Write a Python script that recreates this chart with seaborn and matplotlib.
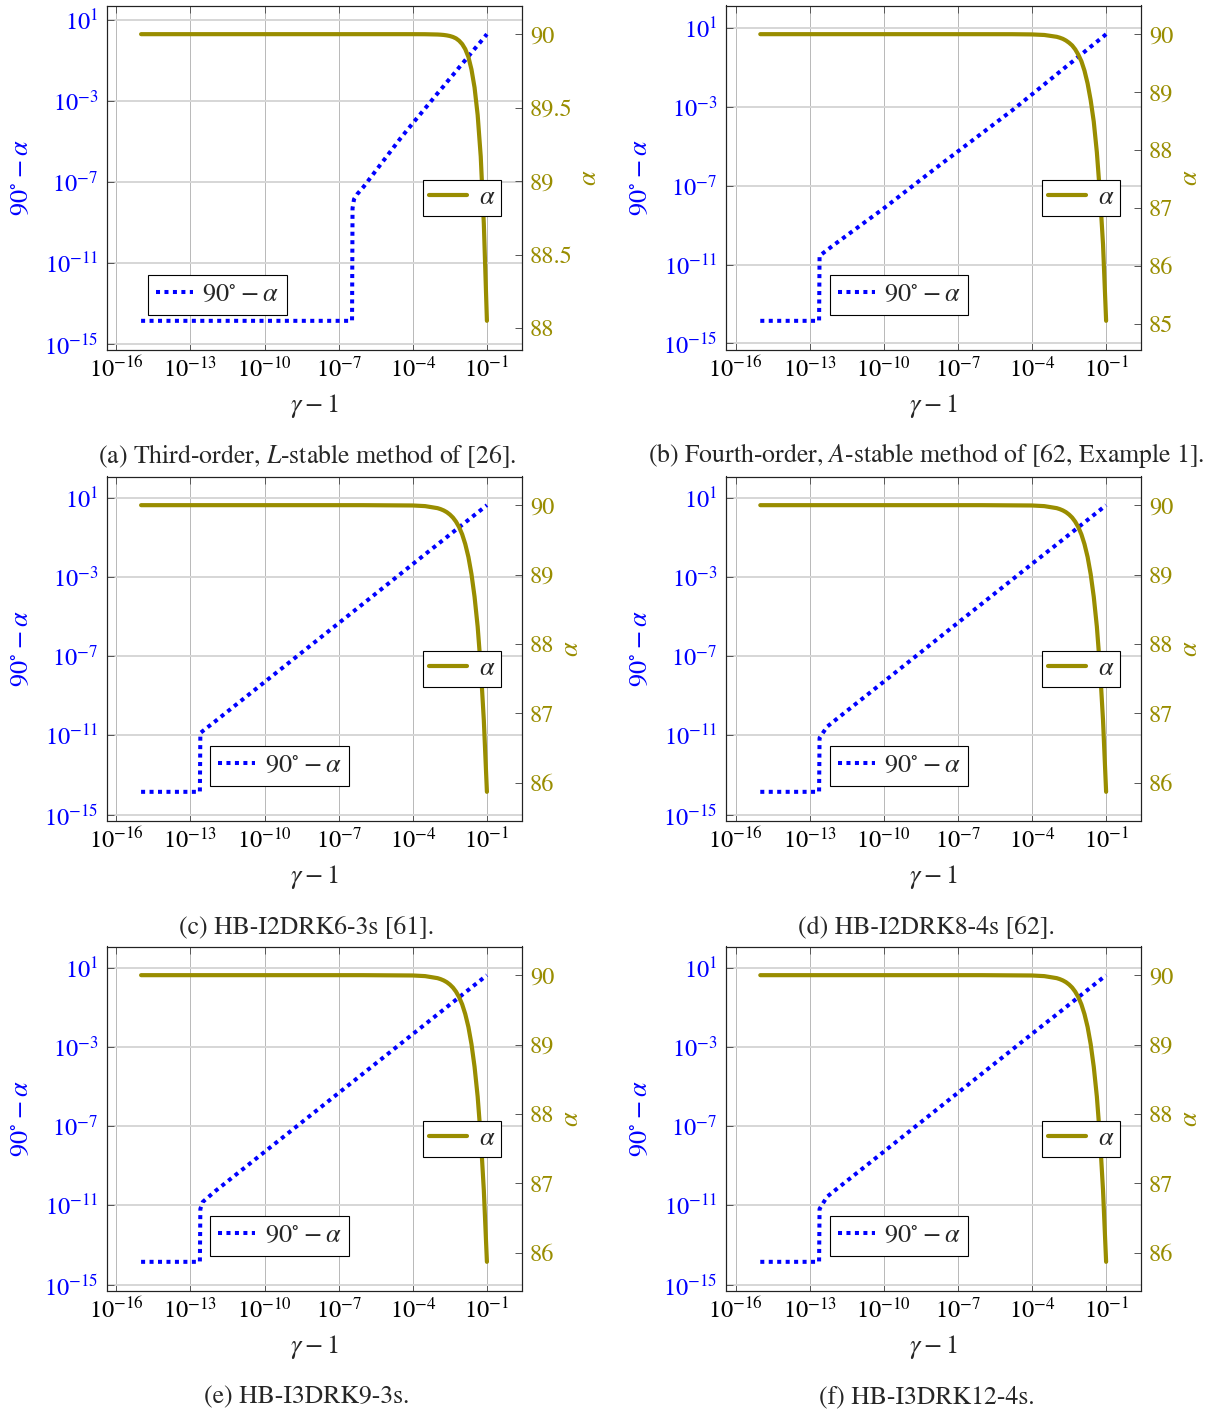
import numpy as np
import pandas as pd
import matplotlib
matplotlib.use("Agg")
import matplotlib.pyplot as plt
from matplotlib.ticker import FixedLocator, NullLocator, FuncFormatter
import seaborn as sns

# ---------------------------------------------------------------------------
# Data: gamma - 1 samples and the measured deviation 90 deg - alpha
# ---------------------------------------------------------------------------
# common fine sampling of the last two decades (1e-3 ... 1e-1)
gm1_tail = [1e-3, 1.33e-3, 1.78e-3, 2.37e-3, 3.16e-3, 4.22e-3, 5.62e-3, 7.50e-3,
            1e-2, 1.33e-2, 1.78e-2, 2.37e-2, 3.16e-2, 4.22e-2, 5.62e-2, 7.50e-2, 1e-1]

gm1_a = [1e-15, 1e-10, 3.47e-7, 3.63e-7, 4.17e-7, 5.62e-7, 1e-6, 3.16e-6, 1e-5,
         3.16e-5, 1e-4, 3.16e-4] + gm1_tail
dev_a = [1.41e-14, 1.41e-14, 1.41e-14, 5.0e-9, 1.41e-8, 2.51e-8, 5.62e-8, 3.55e-7,
         2.24e-6, 1.41e-5, 7.94e-5, 4.27e-4,
         2.34e-3, 3.55e-3, 5.37e-3, 8.3e-3, 1.26e-2, 1.91e-2, 2.88e-2, 4.47e-2,
         6.76e-2, 0.102, 0.155, 0.240, 0.363, 0.55, 0.832, 1.29, 1.95]

gm1_b = [1e-15, 1e-13, 2.40e-13, 2.51e-13, 1e-12, 1e-10, 1e-8, 1.58e-5, 1e-4,
         3.16e-4] + gm1_tail
dev_b = [1.41e-14, 1.41e-14, 1.41e-14, 2.82e-11, 1.05e-10, 7.2e-9, 6.3e-7, 6.76e-4,
         4.37e-3, 1.41e-2,
         4.57e-2, 6.1e-2, 8.13e-2, 0.110, 0.148, 0.195, 0.263, 0.355, 0.468, 0.63,
         0.851, 1.14, 1.51, 2.04, 2.75, 3.63, 4.95]

# (c)-(f) share the same behaviour over the last two decades
dev_tail_cf = [4.3e-2, 5.7e-2, 7.6e-2, 0.101, 0.135, 0.179, 0.238, 0.317, 0.422,
               0.561, 0.746, 0.993, 1.32, 1.75, 2.33, 3.10, 4.13]

gm1_c = [1e-15, 1e-13, 2.40e-13, 2.51e-13, 1e-12, 1e-10, 1e-8, 1e-6, 1e-4,
         3.16e-4] + gm1_tail
dev_c = [1.41e-14, 1.41e-14, 1.41e-14, 1.32e-11, 5.1e-11, 4.9e-9, 4.7e-7, 4.5e-5,
         4.4e-3, 1.38e-2] + dev_tail_cf

gm1_d = [1e-15, 1e-13, 2.40e-13, 2.51e-13, 5.01e-13, 1e-12, 1e-10, 1e-8, 1e-6,
         1e-4, 3.16e-4] + gm1_tail
dev_d = [1.41e-14, 1.41e-14, 1.41e-14, 7.4e-12, 2.7e-11, 5.4e-11, 5.1e-9, 4.9e-7,
         4.7e-5, 4.5e-3, 1.4e-2] + dev_tail_cf

gm1_e = [1e-15, 1e-13, 2.40e-13, 2.51e-13, 3.16e-13, 1e-12, 1e-10, 1e-8, 1e-6,
         1e-4, 3.16e-4] + gm1_tail
dev_e = [1.41e-14, 1.41e-14, 1.41e-14, 6.6e-12, 1.5e-11, 5.2e-11, 5.0e-9, 4.8e-7,
         4.6e-5, 4.4e-3, 1.38e-2] + dev_tail_cf

gm1_f = [1e-15, 1e-13, 2.40e-13, 2.51e-13, 5.01e-13, 1e-12, 1e-10, 1e-8, 1e-6,
         1e-4, 3.16e-4] + gm1_tail
dev_f = [1.41e-14, 1.41e-14, 1.41e-14, 6.6e-12, 2.7e-11, 5.4e-11, 5.1e-9, 4.9e-7,
         4.7e-5, 4.5e-3, 1.4e-2] + dev_tail_cf

# tick values
x_ticks = [1e-16, 1e-13, 1e-10, 1e-7, 1e-4, 1e-1]
dev_ticks = [1e1, 1e-3, 1e-7, 1e-11, 1e-15]
alpha_ticks_a = [88, 88.5, 89, 89.5, 90]
alpha_ticks_b = [85, 86, 87, 88, 89, 90]
alpha_ticks_cf = [86, 87, 88, 89, 90]

captions = [
    r"(a) Third-order, $L$-stable method of [26].",
    r"(b) Fourth-order, $A$-stable method of [62, Example 1].",
    r"(c) HB-I2DRK6-3s [61].",
    r"(d) HB-I2DRK8-4s [62].",
    r"(e) HB-I3DRK9-3s.",
    r"(f) HB-I3DRK12-4s.",
]

# ---------------------------------------------------------------------------
# Style
# ---------------------------------------------------------------------------
sns.set_style("ticks")
plt.rcParams["font.family"] = ["STIXGeneral", "DejaVu Serif"]
plt.rcParams["mathtext.fontset"] = "stix"

BLUE = "#0000ff"
OLIVE = "#998d00"
TICK_FS = 17.5
LABEL_FS = 19
LEG_FS = 19
CAP_FS = 18.5

W, H = 1212, 1413
fig = plt.figure(figsize=(W / 100, H / 100), dpi=100)

col_left = [106.5, 725.7]
row_top = [5.5, 476.5, 946.5]
AX_W, AX_H = 415.0, 344.0
cap_x = [307, 926.5]
cap_y = [456, 927, 1397]


def enlarge(lo, hi, frac=0.1):
    span = hi - lo
    return lo - frac * span, hi + frac * span


def draw_panel(idx, gm1, dev, aticks, blue_leg_x):
    r, c = divmod(idx, 2)
    left = col_left[c]
    top = row_top[r]
    ax = fig.add_axes([left / W, 1 - (top + AX_H) / H, AX_W / W, AX_H / H])
    ax.set_xscale("log")
    ax.set_yscale("log")
    ax2 = ax.twinx()

    df = pd.DataFrame({"gm1": gm1, "dev": dev})
    df["alpha"] = 90.0 - df["dev"]

    sns.lineplot(data=df, x="gm1", y="dev", ax=ax, color=BLUE, linewidth=2.9,
                 linestyle=(0, (1.0, 1.1)), dash_capstyle="butt",
                 estimator=None, sort=False, legend=False)
    blue_line = ax.lines[-1]
    sns.lineplot(data=df, x="gm1", y="alpha", ax=ax2, color=OLIVE, linewidth=3.0,
                 estimator=None, sort=False, legend=False)
    olive_line = ax2.lines[-1]

    # limits: data range enlarged by 10 %
    lx = np.log10(gm1)
    x0, x1 = enlarge(lx.min(), lx.max())
    ax.set_xlim(10 ** x0, 10 ** x1)
    ld = np.log10(dev)
    y0, y1 = enlarge(ld.min(), ld.max())
    ax.set_ylim(10 ** y0, 10 ** y1)
    a = df["alpha"].to_numpy()
    ax2.set_ylim(*enlarge(a.min(), a.max()))

    # ticks
    ax.xaxis.set_major_locator(FixedLocator(x_ticks))
    ax.xaxis.set_minor_locator(NullLocator())
    ax.yaxis.set_major_locator(FixedLocator(dev_ticks))
    ax.yaxis.set_minor_locator(NullLocator())
    pow_fmt = FuncFormatter(lambda v, _: r"$10^{%d}$" % int(round(np.log10(v))))
    ax.xaxis.set_major_formatter(pow_fmt)
    ax.yaxis.set_major_formatter(pow_fmt)
    ax2.yaxis.set_major_locator(FixedLocator(aticks))
    ax2.yaxis.set_minor_locator(NullLocator())
    ax2.yaxis.set_major_formatter(FuncFormatter(lambda v, _: f"{v:g}"))

    ax.tick_params(axis="x", which="major", direction="in", top=True, bottom=True,
                   length=5, width=0.7, color="#555555", labelsize=TICK_FS,
                   pad=5, labelcolor="black")
    ax.tick_params(axis="y", which="major", direction="in", left=True, right=False,
                   length=5, width=0.7, color="#555555", labelsize=TICK_FS,
                   pad=6, labelcolor=BLUE)
    ax2.tick_params(axis="y", which="major", direction="in", right=True, left=False,
                    length=5, width=0.7, color="#555555", labelsize=TICK_FS,
                    pad=6, labelcolor=OLIVE)

    # grid
    ax.set_axisbelow(True)
    ax.grid(axis="x", which="major", color="#b8b8b8", lw=0.7)
    ax.grid(axis="y", which="major", color="#d6d6d6", lw=1.4)
    ax2.grid(False)

    for a_ in (ax, ax2):
        for s in a_.spines.values():
            s.set_color("#222222")
            s.set_linewidth(0.8)
            s.set_visible(True)

    ax.set_xlabel(r"$\gamma - 1$", fontsize=LABEL_FS, labelpad=7)
    ax.set_ylabel(r"$90^{\circ} - \alpha$", fontsize=LABEL_FS, color=BLUE, labelpad=7)
    ax2.set_ylabel(r"$\alpha$", fontsize=LABEL_FS, color=OLIVE, labelpad=4)

    leg_kw = dict(loc="upper left", fontsize=LEG_FS, frameon=True, fancybox=False,
                  framealpha=1.0, edgecolor="black", borderaxespad=0.0)
    leg1 = ax2.legend([blue_line], [r"$90^{\circ} - \alpha$"],
                      bbox_to_anchor=(blue_leg_x, 1 - 269.5 / AX_H),
                      handlelength=1.4, handletextpad=0.35, borderpad=0.3,
                      **leg_kw)
    leg1.get_frame().set_linewidth(0.8)
    ax2.add_artist(leg1)
    leg2 = ax2.legend([olive_line], [r"$\alpha$"],
                      bbox_to_anchor=(0.7625, 1 - 174.5 / AX_H),
                      handlelength=1.45, handletextpad=0.45, borderpad=0.22,
                      **leg_kw)
    leg2.get_frame().set_linewidth(0.8)

    fig.text(cap_x[c] / W, 1 - cap_y[r] / H, captions[idx], ha="center",
             va="center", fontsize=CAP_FS)


draw_panel(0, gm1_a, dev_a, alpha_ticks_a, 0.1007)
draw_panel(1, gm1_b, dev_b, alpha_ticks_b, 0.2505)
draw_panel(2, gm1_c, dev_c, alpha_ticks_cf, 0.2505)
draw_panel(3, gm1_d, dev_d, alpha_ticks_cf, 0.2505)
draw_panel(4, gm1_e, dev_e, alpha_ticks_cf, 0.2505)
draw_panel(5, gm1_f, dev_f, alpha_ticks_cf, 0.2505)

fig.savefig("out.png", dpi=100, facecolor="white")
